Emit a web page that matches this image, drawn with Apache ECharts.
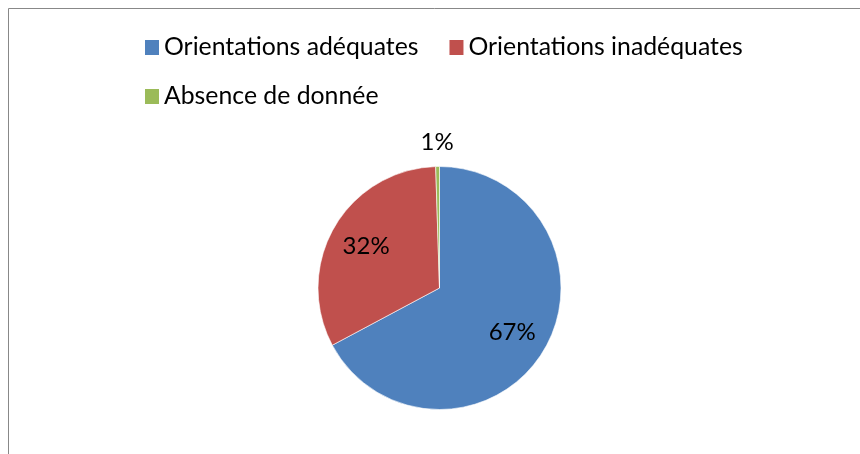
<!DOCTYPE html>
<html>
<head>
<meta charset="utf-8">
<script src="https://cdn.jsdelivr.net/npm/echarts@6/dist/echarts.min.js"></script>
<style>
  html, body { margin: 0; padding: 0; background: #fff; }
  #chart { width: 860px; height: 454px; }
</style>
</head>
<body>
<div id="chart"></div>
<script>
// categories and values (shares in %)
var categories = ['Orientations adéquates', 'Orientations inadéquates', 'Absence de donnée'];
var values = [67.2, 32.3, 0.5];
var colors = ['#4F81BD', '#C0504D', '#9BBB59'];

var font = 'Lato, "Noto Sans", sans-serif';

var chart = echarts.init(document.getElementById('chart'));

function pct(p) { return Math.round(p.value) + '%'; }

var pieData = categories.map(function (name, i) {
    return { name: name, value: values[i], itemStyle: { color: colors[i] } };
});

// transparent rings carrying the labels: inner ring for big slices, outer ring for the thin one
function ringData(showIdx) {
    return categories.map(function (name, i) {
        return { name: name, value: values[i], label: { show: showIdx.indexOf(i) >= 0 } };
    });
}

var labelStyle = {
    show: true,
    position: 'inside',
    fontFamily: font,
    fontSize: 24,
    color: '#000',
    formatter: pct
};

function legendRow(names, top) {
    return {
        left: 138,
        top: top,
        itemGap: 29,
        itemWidth: 16,
        itemHeight: 17,
        icon: 'rect',
        selectedMode: false,
        data: names,
        textStyle: {
            fontFamily: font,
            fontSize: 24.8,
            color: '#000',
            padding: [0, 0, 0, -1]
        }
    };
}

var option = {
    animation: false,
    graphic: [{
        type: 'rect',
        shape: { x: 8.5, y: 8.5, width: 900, height: 500 },
        style: { fill: 'none', stroke: '#888', lineWidth: 1 },
        silent: true
    }],
    legend: [
        legendRow(categories.slice(0, 2), 30),
        legendRow(categories.slice(2), 79)
    ],
    series: [{
        name: 'pie',
        type: 'pie',
        center: [439.5, 288],
        radius: 121.5,
        startAngle: 90,
        clockwise: true,
        silent: true,
        itemStyle: { borderColor: '#fff', borderWidth: 0.6 },
        label: { show: false },
        labelLine: { show: false },
        data: pieData
    }, {
        name: 'labels-inner',
        type: 'pie',
        center: [439.5, 289],
        radius: [42, 121.5],
        startAngle: 90,
        clockwise: true,
        silent: true,
        itemStyle: { color: 'rgba(0,0,0,0)' },
        label: labelStyle,
        labelLine: { show: false },
        data: ringData([0, 1])
    }, {
        name: 'labels-outer',
        type: 'pie',
        center: [439.5, 288],
        radius: [121.5, 165],
        startAngle: 90,
        clockwise: true,
        silent: true,
        itemStyle: { color: 'rgba(0,0,0,0)' },
        label: labelStyle,
        labelLine: { show: false },
        data: ringData([2])
    }]
};
chart.setOption(option);
</script>
</body>
</html>
